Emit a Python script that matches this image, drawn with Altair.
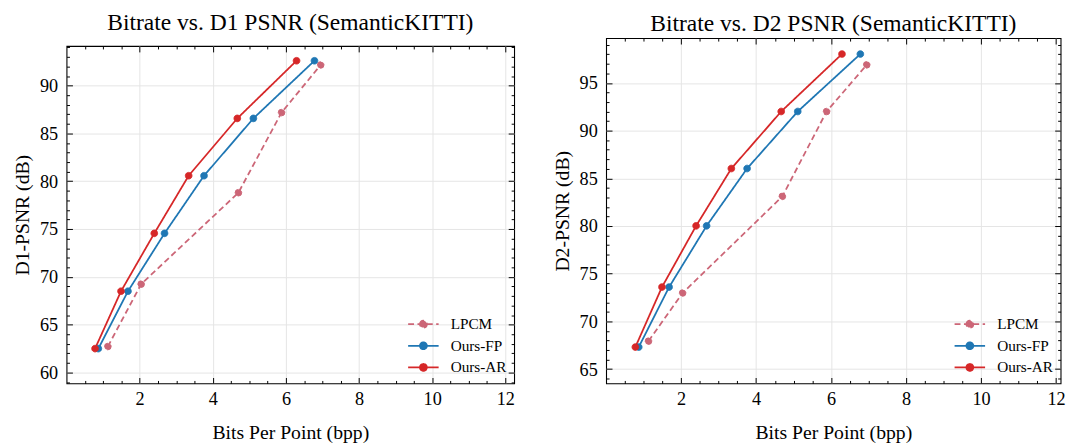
import altair as alt
import pandas as pd

FONT = "Liberation Serif"

methods = ["LPCM", "Ours-FP", "Ours-AR"]
colors = ["#cc6677", "#1f77b4", "#d62728"]
dashes = [[6, 3.5], [1, 0], [1, 0]]

bpp_lpcm = [1.13, 2.04, 4.70, 5.88, 6.95]
bpp_fp = [0.87, 1.68, 2.68, 3.76, 5.11, 6.78]
bpp_ar = [0.78, 1.49, 2.40, 3.34, 4.67, 6.29]

d1_lpcm = [62.72, 69.24, 78.80, 87.18, 92.16]
d1_fp = [62.50, 68.50, 74.55, 80.58, 86.57, 92.60]
d1_ar = [62.50, 68.50, 74.55, 80.58, 86.57, 92.60]

d2_lpcm = [67.93, 72.98, 83.11, 92.01, 96.90]
d2_fp = [67.31, 73.60, 80.02, 86.03, 92.01, 98.03]
d2_ar = [67.31, 73.60, 80.02, 86.03, 92.01, 98.03]

x_ticks = [2, 4, 6, 8, 10, 12]
x_minor = [v / 2 for v in range(1, 25) if v % 4]
d1_ticks = [60, 65, 70, 75, 80, 85, 90]
d1_minor = [v for v in range(59, 95) if v % 5]
d2_ticks = [65, 70, 75, 80, 85, 90, 95]
d2_minor = [v for v in range(64, 100) if v % 5]


def frame(bpps, vals):
    rows = []
    for m, xs, ys in zip(methods, bpps, vals):
        for x, y in zip(xs, ys):
            rows.append({"method": m, "bpp": x, "psnr": y})
    return pd.DataFrame(rows)


df1 = frame([bpp_lpcm, bpp_fp, bpp_ar], [d1_lpcm, d1_fp, d1_ar])
df2 = frame([bpp_lpcm, bpp_fp, bpp_ar], [d2_lpcm, d2_fp, d2_ar])

LEG_PATH = "M-3.1,0L3.1,0M-0.7,0A0.7,0.7,0,1,1,0.7,0A0.7,0.7,0,1,1,-0.7,0Z"


def legend():
    return alt.Legend(
        title=None, orient="bottom-right", offset=7,
        symbolType=LEG_PATH, symbolSize=100, symbolStrokeWidth=1.8,
        labelFont=FONT, labelFontSize=15.5, labelColor="black",
        labelOffset=20, rowPadding=5,
    )


def enc_color():
    sc = alt.Scale(domain=methods, range=colors)
    return dict(
        stroke=alt.Stroke("method:N", scale=sc, legend=legend()),
        strokeDash=alt.StrokeDash("method:N", scale=alt.Scale(domain=methods, range=dashes), legend=legend()),
    )


INDEP = dict(x="independent", y="independent", stroke="independent",
             fill="independent", strokeDash="independent")
INDEP_LEG = dict(stroke="independent", fill="independent", strokeDash="independent")


def make_title(text, off):
    return alt.TitleParams(text, font=FONT, fontSize=23.9, fontWeight="normal",
                           color="black", frame="group", offset=off)


def panel(df, ytitle, ydom, yticks, yminor, xmax, w, h):
    xs = alt.Scale(domain=[0, xmax], nice=False, zero=False)
    ys = alt.Scale(domain=ydom, nice=False, zero=False)
    common = dict(domain=False, tickColor="black", tickWidth=1, labels=False,
                  grid=False, title=None)
    base = alt.Chart(df)

    ax_x = alt.Axis(orient="bottom", values=x_ticks, format="d", tickSize=6, offset=-6,
                    labelPadding=6, grid=False, domain=False, tickColor="black",
                    title="Bits Per Point (bpp)", labelFont=FONT, labelFontSize=18.5,
                    labelColor="black", titleFont=FONT, titleFontSize=20,
                    titleFontWeight="normal", titleColor="black", titlePadding=15)
    ax_y = alt.Axis(orient="left", values=yticks, format="d", tickSize=6, offset=-6,
                    labelPadding=9, grid=False, domain=False, tickColor="black",
                    title=ytitle, labelFont=FONT, labelFontSize=18.5,
                    labelColor="black", titleFont=FONT, titleFontSize=20,
                    titleFontWeight="normal", titleColor="black", titlePadding=7)

    lines = base.mark_line(strokeWidth=1.8).encode(
        x=alt.X("bpp:Q", scale=xs, axis=ax_x),
        y=alt.Y("psnr:Q", scale=ys, axis=ax_y),
        **enc_color(),
    )
    sc = alt.Scale(domain=methods, range=colors)
    points = base.mark_point(filled=True, size=45, strokeWidth=1, opacity=1).encode(
        x=alt.X("bpp:Q", scale=xs, axis=None),
        y=alt.Y("psnr:Q", scale=ys, axis=None),
        fill=alt.Fill("method:N", scale=sc, legend=legend()),
        **enc_color(),
    )
    grid = base.mark_point(opacity=0).encode(
        x=alt.X("bpp:Q", scale=xs, axis=alt.Axis(orient="bottom", values=x_ticks, ticks=False,
                labels=False, domain=False, grid=True, gridColor="#e4e4e4", gridWidth=1, title=None)),
        y=alt.Y("psnr:Q", scale=ys, axis=alt.Axis(orient="left", values=yticks, ticks=False,
                labels=False, domain=False, grid=True, gridColor="#e4e4e4", gridWidth=1, title=None)),
    )
    minor_bl = base.mark_point(opacity=0).encode(
        x=alt.X("bpp:Q", scale=xs, axis=alt.Axis(orient="bottom", values=x_minor, tickSize=3, offset=-3, **common)),
        y=alt.Y("psnr:Q", scale=ys, axis=alt.Axis(orient="left", values=yminor, tickSize=3, offset=-3, **common)),
    )
    major_tr = base.mark_point(opacity=0).encode(
        x=alt.X("bpp:Q", scale=xs, axis=alt.Axis(orient="top", values=x_ticks, tickSize=6, offset=-6, **common)),
        y=alt.Y("psnr:Q", scale=ys, axis=alt.Axis(orient="right", values=yticks, tickSize=6, offset=-6, **common)),
    )
    minor_tr = base.mark_point(opacity=0).encode(
        x=alt.X("bpp:Q", scale=xs, axis=alt.Axis(orient="top", values=x_minor, tickSize=3, offset=-3, **common)),
        y=alt.Y("psnr:Q", scale=ys, axis=alt.Axis(orient="right", values=yminor, tickSize=3, offset=-3, **common)),
    )
    return alt.layer(grid, minor_bl, major_tr, minor_tr, lines, points).resolve_axis(
        x="independent", y="independent"
    ).properties(width=w, height=h)


left_plot = panel(df1, "D1-PSNR (dB)", [58.86, 94.14], d1_ticks, d1_minor, 12.24, 455, 343)
right_plot = panel(df2, "D2-PSNR (dB)", [63.5, 99.7], d2_ticks, d2_minor, 12.12, 462, 351)

# invisible strip that carries the left title and lowers the left frame
spacer = alt.Chart(df1).mark_point(opacity=0).encode(
    x=alt.X("bpp:Q", axis=None), y=alt.Y("psnr:Q", axis=None)
).properties(
    width=455, height=1,
    view=alt.ViewBackground(stroke="transparent"),
    title=make_title("Bitrate vs. D1 PSNR (SemanticKITTI)", 1),
)

left = alt.vconcat(spacer, left_plot, spacing=2).resolve_scale(**INDEP).resolve_legend(**INDEP_LEG)
right = alt.vconcat(
    right_plot.properties(title=make_title("Bitrate vs. D2 PSNR (SemanticKITTI)", 1.5))
).resolve_scale(**INDEP).resolve_legend(**INDEP_LEG)

chart = alt.hconcat(left, right, spacing=35.5).resolve_scale(**INDEP).resolve_legend(
    **INDEP_LEG
).properties(
    padding={"left": 3.5, "top": -2, "right": 0, "bottom": 0}
).configure(font=FONT).configure_view(stroke="black", strokeWidth=1.1)

chart.save("out.html", embed_options={"renderer": "svg", "actions": False})
